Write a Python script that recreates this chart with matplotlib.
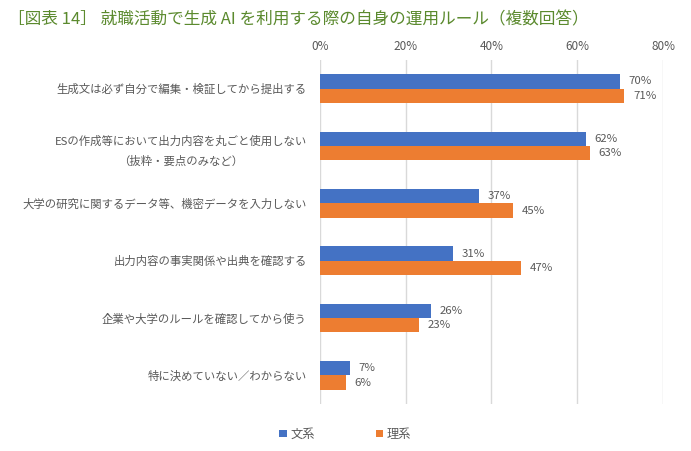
import matplotlib
matplotlib.use("Agg")
import matplotlib.pyplot as plt
import numpy as np

plt.rcParams['font.family'] = ['Noto Sans CJK JP', 'DejaVu Sans']

categories = [
    "生成文は必ず自分で編集・検証してから提出する",
    "ESの作成等において出力内容を丸ごと使用しない\n（抜粋・要点のみなど）",
    "大学の研究に関するデータ等、機密データを入力しない",
    "出力内容の事実関係や出典を確認する",
    "企業や大学のルールを確認してから使う",
    "特に決めていない／わからない",
]
bunkei = [70, 62, 37, 31, 26, 7]
rikei = [71, 63, 45, 47, 23, 6]
series_names = ["文系", "理系"]
xticks = [0, 20, 40, 60, 80]

blue = "#4472C4"
orange = "#ED7D31"
gray = "#595959"

fig = plt.figure(figsize=(6.91, 4.51), dpi=100)
ax = fig.add_axes([0.463, 0.104, 0.4965, 0.763])

y = np.arange(len(categories))
h = 0.25
b1 = ax.barh(y - h/2, bunkei, height=h, color=blue, label=series_names[0])
b2 = ax.barh(y + h/2, rikei, height=h, color=orange, label=series_names[1])

for bars, vals in ((b1, bunkei), (b2, rikei)):
    for bar, v in zip(bars, vals):
        ax.text(bar.get_width() + 2.0, bar.get_y() + bar.get_height()/2, f"{v}%",
                va="center", ha="left", fontsize=8.2, color=gray)

ax.set_ylim(len(categories) - 0.5, -0.5)
ax.set_xlim(0, 80)
ax.set_xticks(xticks)
ax.set_xticklabels([f"{t}%" for t in xticks])
ax.xaxis.tick_top()
ax.tick_params(axis='x', length=0, labelsize=8.5, colors=gray, pad=5)
ax.set_yticks(y)
ax.set_yticklabels(categories, fontsize=8.2, color=gray, linespacing=1.9)
ax.tick_params(axis='y', length=0, pad=9.5)
for lab in ax.get_yticklabels():
    lab.set_horizontalalignment('right')
    lab.set_multialignment('center')
ax.grid(axis='x', color="#D9D9D9", linewidth=1)
ax.set_axisbelow(True)
for s in ax.spines.values():
    s.set_visible(False)

fig.text(0.012, 0.955, "［図表 14］ 就職活動で生成 AI を利用する際の自身の運用ルール（複数回答）",
         fontsize=12, color="#5B8A2E", va="center", ha="left")

fig.legend(handles=[b1, b2], labels=series_names, loc="center", bbox_to_anchor=(0.5, 0.037),
           ncol=2, frameon=False, fontsize=8.8, handlelength=0.6, handleheight=0.6,
           columnspacing=5, handletextpad=0.3, labelcolor=gray)

fig.savefig("out.png", dpi=100)
